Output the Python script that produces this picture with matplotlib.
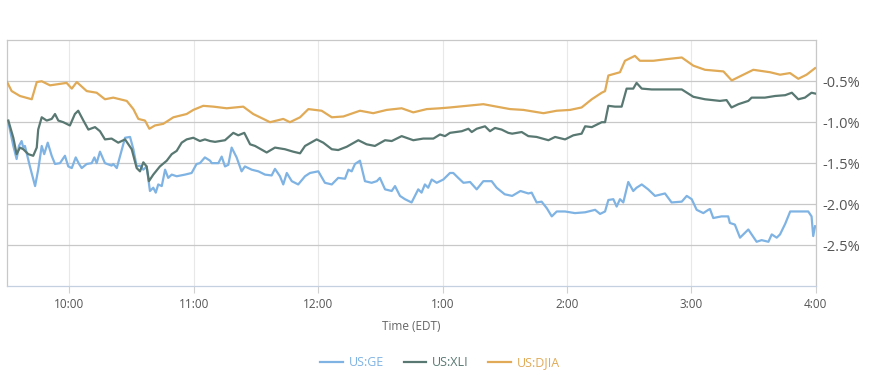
import matplotlib
matplotlib.use("Agg")
import matplotlib.pyplot as plt
from matplotlib.lines import Line2D

plt.rcParams['font.family'] = ['Open Sans', 'DejaVu Sans']

# minutes after 9:30 open, percent change
ge_t = [0.6, 3, 4.6, 5.7, 7, 7.8, 8.6, 11, 13.5, 15, 16.7, 17.9, 19.6, 21.5, 23.1, 25.5, 27.9, 29.5,
        31.2, 33.1, 34.7, 36, 38.4, 40.8, 42.1, 43.2, 44.8, 47.2, 50.4, 51.2, 52.9, 54.5, 56.9, 59.3,
        60.9, 62.5, 64.1, 65.7, 67.3, 68.9, 70.5, 71.7, 72.9, 74.6, 76.2, 77.7, 79.4, 81.8, 85.8, 89,
        91.4, 93, 95.4, 97.9, 98.7, 101.9, 103.5, 105.1, 106.7, 108.3, 110.7, 113.1, 114.7, 118, 121.2,
        124.4, 127.6, 129.2, 131.6, 133.2, 134.9, 137.3, 140.4, 143.7, 146.1, 150.1, 153.3, 156.6,
        159.7, 163, 164.6, 166.2, 167.8, 170.2, 172.6, 175.8, 178.3, 179.8, 182.3, 185.5, 187.1,
        189.5, 191.9, 195.1, 198.3, 199.9, 201.5, 203.1, 204.8, 207.2, 210.4, 213.6, 215.2, 217.6,
        220.1, 223.3, 226.5, 229.7, 233.7, 236.1, 240, 243.6, 247.6, 251.4, 253, 255.4, 257.8, 260.3,
        262.7, 265.1, 269.1, 273.9, 278.8, 283.6, 286, 288.4, 290, 292.4, 294, 295.6, 297.2, 299.6,
        302, 303.6, 306.1, 309.2, 312.5, 317.3, 320.5, 325.4, 327.8, 330.2, 332.6, 335.8, 338.2, 339,
        340.6, 344.6, 347.8, 348.6, 351, 353.5, 355.1, 357.5, 359.1, 361.5, 363.9, 367.2, 368.8,
        371.2, 372.8, 375.3, 377.7, 380.9, 386.4, 388, 388.8, 389.7]
ge_v = [-1.00, -1.29, -1.45, -1.29, -1.23, -1.31, -1.29, -1.54, -1.78, -1.58, -1.29, -1.39, -1.25,
        -1.41, -1.51, -1.50, -1.41, -1.54, -1.56, -1.43, -1.51, -1.56, -1.51, -1.50, -1.43, -1.50,
        -1.36, -1.50, -1.53, -1.51, -1.56, -1.41, -1.19, -1.18, -1.33, -1.54, -1.53, -1.58, -1.54,
        -1.84, -1.80, -1.86, -1.76, -1.78, -1.58, -1.68, -1.64, -1.66, -1.64, -1.62, -1.51, -1.50,
        -1.43, -1.47, -1.50, -1.50, -1.42, -1.54, -1.52, -1.31, -1.43, -1.60, -1.54, -1.58, -1.60,
        -1.64, -1.65, -1.57, -1.66, -1.76, -1.62, -1.72, -1.76, -1.66, -1.62, -1.60, -1.74, -1.76,
        -1.68, -1.69, -1.58, -1.60, -1.51, -1.47, -1.72, -1.74, -1.72, -1.68, -1.82, -1.84, -1.78,
        -1.90, -1.94, -1.98, -1.82, -1.86, -1.76, -1.80, -1.70, -1.74, -1.70, -1.62, -1.62, -1.68,
        -1.74, -1.73, -1.82, -1.72, -1.72, -1.80, -1.88, -1.90, -1.84, -1.87, -1.86, -1.98, -1.97,
        -2.05, -2.15, -2.09, -2.09, -2.11, -2.10, -2.07, -2.12, -2.09, -1.95, -1.94, -2.03, -1.94,
        -1.98, -1.73, -1.84, -1.80, -1.76, -1.82, -1.90, -1.87, -1.98, -1.97, -1.90, -1.94, -2.07,
        -2.11, -2.07, -2.06, -2.17, -2.15, -2.15, -2.23, -2.25, -2.41, -2.37, -2.31, -2.37, -2.46,
        -2.44, -2.46, -2.37, -2.41, -2.37, -2.24, -2.09, -2.09, -2.09, -2.15, -2.39, -2.27]

xli_t = [0.6, 3, 4.6, 6.2, 7.8, 10.2, 12.6, 14.3, 15, 16.7, 19.1, 21.5, 23.1, 24.7, 27.1, 30.3, 32.7,
         34.3, 36.8, 39.2, 42.4, 44.8, 47.2, 50.4, 53.6, 56.9, 60.1, 62.5, 64.1, 65.7, 67.3, 68.4,
         70.5, 73.7, 77.0, 79.4, 81.8, 84.2, 86.6, 89.8, 93.0, 95.4, 97.9, 100.3, 105.1, 109.1,
         111.5, 114.4, 117.2, 119.6, 125.2, 129.2, 134.0, 138.0, 141.3, 143.7, 149.3, 152.5, 156.6,
         159.7, 163.8, 169.4, 173.4, 177.4, 182.3, 185.5, 190.3, 195.9, 200.7, 205.6, 208.8, 211.2,
         213.6, 219.3, 222.5, 224.1, 226.5, 230.5, 232.9, 235.3, 238.5, 241.7, 243.6, 248.2, 251.4,
         255.4, 261.1, 264.3, 269.1, 273.1, 277.1, 278.8, 282.0, 286.8, 288.4, 290.0, 293.2, 296.4,
         298.8, 302.0, 303.6, 306.1, 310.9, 318.1, 325.4, 331.0, 336.6, 343.8, 347.0, 349.4, 352.7,
         357.5, 359.1, 365.5, 370.4, 375.3, 378.5, 381.6, 384.8, 388.0, 389.7]
xli_v = [-0.98, -1.19, -1.39, -1.31, -1.33, -1.39, -1.41, -1.31, -1.09, -0.94, -0.98, -0.96, -0.90,
         -0.98, -1.00, -1.04, -0.90, -0.86, -0.98, -1.09, -1.06, -1.11, -1.21, -1.20, -1.25, -1.21,
         -1.33, -1.56, -1.60, -1.49, -1.54, -1.72, -1.64, -1.54, -1.47, -1.39, -1.35, -1.25, -1.21,
         -1.19, -1.23, -1.21, -1.23, -1.24, -1.22, -1.13, -1.16, -1.13, -1.27, -1.29, -1.37, -1.31,
         -1.33, -1.36, -1.38, -1.29, -1.21, -1.25, -1.33, -1.34, -1.30, -1.22, -1.27, -1.29, -1.22,
         -1.23, -1.17, -1.22, -1.20, -1.20, -1.15, -1.17, -1.13, -1.11, -1.08, -1.12, -1.08, -1.05,
         -1.11, -1.07, -1.09, -1.13, -1.14, -1.12, -1.17, -1.18, -1.22, -1.18, -1.21, -1.16, -1.14,
         -1.05, -1.06, -1.00, -1.00, -0.80, -0.81, -0.81, -0.59, -0.59, -0.52, -0.59, -0.60, -0.60,
         -0.60, -0.69, -0.72, -0.74, -0.73, -0.82, -0.78, -0.74, -0.70, -0.70, -0.68, -0.67, -0.64,
         -0.72, -0.70, -0.64, -0.65]

djia_t = [0, 2.2, 6.2, 11.9, 14.3, 16.7, 20.7, 28.7, 31.2, 33.6, 38.4, 43.2, 47.2, 51.2, 57.7, 60.9,
          63.3, 66.5, 68.6, 71.3, 75.3, 80.2, 86.6, 89.8, 94.6, 99.5, 105.9, 113.9, 118.7, 123.6,
          126.8, 133.2, 136.4, 141.3, 145.3, 151.7, 156.6, 162.2, 170.2, 176.6, 183.1, 190.3, 195.9,
          202.4, 208.8, 213.6, 221.7, 229.7, 236.1, 242.6, 249.0, 258.7, 265.1, 271.5, 277.1, 282.0,
          286.8, 288.4, 290.0, 295.6, 298.0, 302.8, 305.2, 311.7, 318.1, 325.4, 331.0, 336.6, 345.5,
          349.5, 353.5, 359.9, 368.0, 372.8, 377.6, 381.6, 385.6, 389.7]
djia_v = [-0.51, -0.62, -0.68, -0.72, -0.51, -0.50, -0.55, -0.52, -0.59, -0.51, -0.62, -0.64, -0.72,
          -0.70, -0.74, -0.84, -0.96, -0.98, -1.08, -1.04, -1.02, -0.94, -0.90, -0.85, -0.80, -0.81,
          -0.83, -0.81, -0.90, -0.96, -1.00, -0.96, -1.00, -0.94, -0.84, -0.86, -0.94, -0.93, -0.86,
          -0.89, -0.85, -0.83, -0.88, -0.84, -0.83, -0.82, -0.80, -0.78, -0.81, -0.84, -0.85, -0.89,
          -0.86, -0.85, -0.82, -0.72, -0.64, -0.62, -0.43, -0.39, -0.25, -0.19, -0.25, -0.25, -0.23,
          -0.21, -0.31, -0.36, -0.38, -0.49, -0.44, -0.36, -0.39, -0.42, -0.40, -0.47, -0.42, -0.34]

hour_ticks = [30, 90, 150, 210, 270, 330, 390]
hour_labels = ['10:00', '11:00', '12:00', '1:00', '2:00', '3:00', '4:00']
pct_ticks = [-2.5, -2.0, -1.5, -1.0, -0.5]
pct_labels = ['-2.5%', '-2.0%', '-1.5%', '-1.0%', '-0.5%']

series = [('US:GE', ge_t, ge_v, '#7fb3e3'),
          ('US:XLI', xli_t, xli_v, '#587871'),
          ('US:DJIA', djia_t, djia_v, '#e0aa56')]

fig = plt.figure(figsize=(8.77, 3.83), dpi=100)
ax = fig.add_axes([7.1 / 877, 97 / 383, 808.6 / 877, 245.7 / 383])

for name, t, v, c in series:
    ax.plot(t, v, color=c, linewidth=1.6, solid_joinstyle='round', zorder=3)

ax.set_xlim(0, 390)
ax.set_ylim(-3.0, 0.0)

ax.set_xticks(hour_ticks)
ax.set_xticklabels(hour_labels, fontsize=8.5, color='#555555')
ax.tick_params(axis='x', length=5, width=0.8, color='#d0d0d0', pad=4)

ax.yaxis.tick_right()
ax.set_yticks(pct_ticks)
ax.set_yticklabels(pct_labels, fontsize=10.5, color='#555555')
ax.tick_params(axis='y', length=0, pad=5)

ax.grid(axis='y', color='#c8c8c8', linewidth=0.9, zorder=1)
ax.grid(axis='x', color='#e8e8e8', linewidth=0.8, zorder=1)
for side in ['top', 'left', 'right']:
    ax.spines[side].set_color('#c8c8c8')
    ax.spines[side].set_linewidth(0.9)
ax.spines['bottom'].set_color('#c4cfe0')
ax.spines['bottom'].set_linewidth(0.9)

ax.set_xlabel('Time (EDT)', fontsize=8.5, color='#666666', labelpad=6)

handles = [Line2D([0], [0], color=c, linewidth=1.6) for _, _, _, c in series]
leg = fig.legend(handles, [s[0] for s in series], loc='center', bbox_to_anchor=(440 / 877, 1 - 363 / 383),
                 ncol=3, frameon=False, fontsize=9, handlelength=1.8, handletextpad=0.45,
                 columnspacing=1.6)
for txt, s in zip(leg.get_texts(), series):
    txt.set_color(s[3])

fig.savefig('out.png', dpi=100)
